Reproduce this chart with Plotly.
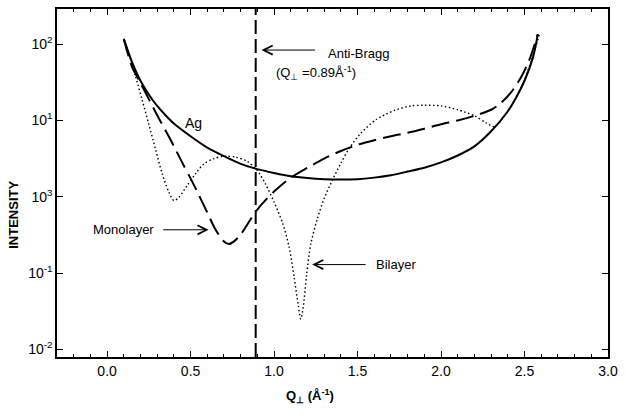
import plotly.graph_objects as go

# ---- data -----------------------------------------------------------------
# Ag crystal truncation rod (solid)
q_ag = [0.10, 0.15, 0.20, 0.25, 0.30, 0.35, 0.40, 0.50, 0.60, 0.70, 0.80, 0.90,
        1.00, 1.10, 1.20, 1.30, 1.40, 1.50, 1.60, 1.70, 1.80, 1.90, 2.00, 2.10,
        2.20, 2.30, 2.40, 2.45, 2.50, 2.55, 2.58]
i_ag = [117, 57.5, 33.1, 21.9, 15.5, 11.7, 9.1, 6.2, 4.4, 3.4, 2.7, 2.3,
        2.05, 1.86, 1.76, 1.70, 1.68, 1.70, 1.78, 1.91, 2.14, 2.40, 2.82, 3.47,
        4.57, 7.2, 13.2, 20.0, 33.1, 66, 135]

# Monolayer (long dashes)
q_mono = [0.10, 0.15, 0.20, 0.25, 0.30, 0.35, 0.40, 0.45, 0.50, 0.55, 0.60, 0.65,
          0.70, 0.73, 0.76, 0.80, 0.85, 0.90, 0.95, 1.00, 1.10, 1.20, 1.30, 1.40,
          1.50, 1.60, 1.70, 1.80, 1.90, 2.00, 2.10, 2.20, 2.30, 2.36, 2.42, 2.48,
          2.53, 2.58]
i_mono = [117, 50, 31, 19, 11.7, 7.4, 4.6, 2.8, 1.74, 1.05, 0.62, 0.37,
          0.26, 0.24, 0.26, 0.32, 0.47, 0.68, 0.91, 1.17, 1.78, 2.4, 3.16, 3.98,
          4.8, 5.5, 6.2, 6.9, 7.8, 8.9, 10, 11.5, 13.8, 17, 23.4, 37,
          63, 135]

# Bilayer (dotted)
q_bi = [0.10, 0.13, 0.17, 0.21, 0.25, 0.29, 0.33, 0.37, 0.40, 0.43, 0.48, 0.53,
        0.58, 0.64, 0.70, 0.77, 0.84, 0.90, 0.95, 1.00, 1.05, 1.09, 1.12, 1.145,
        1.16, 1.175, 1.195, 1.22, 1.26, 1.30, 1.35, 1.40, 1.45, 1.52, 1.61, 1.72,
        1.82, 1.90, 2.00, 2.10, 2.20, 2.27, 2.32, 2.37, 2.43, 2.49, 2.54, 2.59]
i_bi = [117, 76, 38, 18.6, 8.9, 4.2, 2.0, 1.15, 0.89, 0.98, 1.41, 2.0,
        2.7, 3.16, 3.4, 3.3, 2.9, 2.2, 1.45, 0.85, 0.46, 0.22, 0.089, 0.038,
        0.025, 0.036, 0.095, 0.24, 0.52, 0.95, 1.66, 2.75, 4.3, 6.8, 10.2, 13.5,
        15.5, 15.8, 15.5, 13.8, 11.5, 9.3, 8.3, 10.7, 16.6, 30, 60, 135]

ANTI_BRAGG_Q = 0.89

x_tick_vals = [0.0, 0.5, 1.0, 1.5, 2.0, 2.5, 3.0]
y_tick_vals = [1e-2, 1e-1, 1e0, 1e1, 1e2]
y_tick_text = ["10<sup>-2</sup>", "10<sup>-1</sup>", "10<sup>3</sup>",
               "10<sup>1</sup>", "10<sup>2</sup>"]

# ---- figure ---------------------------------------------------------------
FONT = "Liberation Sans, Arial, Helvetica, sans-serif"
INK = "black"

fig = go.Figure()
fig.add_trace(go.Scatter(x=q_ag, y=i_ag, mode="lines", name="Ag",
                         line=dict(color=INK, width=2, shape="spline", smoothing=0.8)))
fig.add_trace(go.Scatter(x=q_mono, y=i_mono, mode="lines", name="Monolayer",
                         line=dict(color=INK, width=2, dash="18px,7px",
                                   shape="spline", smoothing=0.8)))
fig.add_trace(go.Scatter(x=q_bi, y=i_bi, mode="lines", name="Bilayer",
                         line=dict(color=INK, width=1.4, dash="1.5px,2.5px",
                                   shape="spline", smoothing=0.8)))

# anti-Bragg position marker
fig.add_shape(type="line", xref="x", yref="paper", x0=ANTI_BRAGG_Q, x1=ANTI_BRAGG_Q,
              y0=0, y1=1, line=dict(color=INK, width=2, dash="14px,5px"))

axis_common = dict(showline=True, linecolor=INK, linewidth=1.5, mirror="ticks",
                   ticks="inside", ticklen=6, tickwidth=1.2, tickcolor=INK,
                   showgrid=False, zeroline=False,
                   tickfont=dict(family=FONT, size=14, color=INK))

fig.update_xaxes(range=[-0.3, 3.0], tickvals=x_tick_vals, tickformat=".1f",
                 minor=dict(dtick=0.1, ticks="inside", ticklen=3, tickwidth=1,
                            tickcolor=INK, showgrid=False),
                 **axis_common)
fig.update_yaxes(type="log", range=[-2.1, 2.46], tickvals=y_tick_vals,
                 ticktext=y_tick_text, **axis_common)


def arrow(x_head, logy, x_tail_px):
    """Open-headed horizontal arrow; tail offset given in pixels."""
    fig.add_annotation(x=x_head, y=logy, xref="x", yref="y", text="",
                       showarrow=True, arrowhead=5, arrowsize=1.8, arrowwidth=1,
                       arrowcolor=INK, ax=x_tail_px, ay=0, standoff=0)


def label(x, logy, text, anchor="left", size=13, bold=False):
    fig.add_annotation(x=x, y=logy, xref="x", yref="y",
                       text=f"<b>{text}</b>" if bold else text, showarrow=False,
                       xanchor=anchor, yanchor="middle",
                       font=dict(family=FONT, size=size, color=INK))


# Anti-Bragg
arrow(0.925, 1.922, 55)
label(1.309, 1.878, "Anti-Bragg")
label(1.249, 1.617, f"(Q<sub>⊥</sub> ={ANTI_BRAGG_Q:.2f}Å<sup>-1</sup>)", anchor="center")

# Monolayer
arrow(0.608, -0.433, -47)
label(0.294, -0.433, "Monolayer", anchor="right")

# Bilayer
arrow(1.228, -0.889, 55)
label(1.596, -0.889, "Bilayer")

# Ag
label(0.519, 0.962, "Ag", anchor="center", size=14)

# axis titles
fig.add_annotation(x=(312 - 57) / 556, y=-0.111, xref="paper", yref="paper",
                   text="<b>Q<sub>⊥</sub> (Å<sup>-1</sup>)</b>", showarrow=False,
                   xanchor="center", yanchor="middle",
                   font=dict(family=FONT, size=13, color=INK))
fig.add_annotation(x=-0.079, y=0.41, xref="paper", yref="paper",
                   text="<b>INTENSITY</b>", textangle=-90, showarrow=False,
                   xanchor="center", yanchor="middle",
                   font=dict(family=FONT, size=13, color=INK))

fig.update_layout(width=625, height=413, showlegend=False,
                  margin=dict(l=57, r=12, t=7, b=56),
                  paper_bgcolor="white", plot_bgcolor="white",
                  font=dict(family=FONT, color=INK))

fig.write_html("out.html")
